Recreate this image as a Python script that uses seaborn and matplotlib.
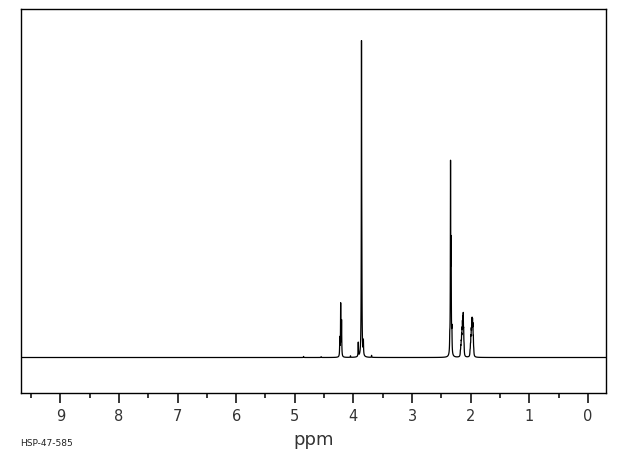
import numpy as np
import pandas as pd
import matplotlib
matplotlib.use("Agg")
import matplotlib.pyplot as plt
import seaborn as sns
from matplotlib.ticker import MultipleLocator

# ---- data (chemical shift in ppm, peak heights in arbitrary units) ----
peak_ppm = [4.85, 4.55, 4.232, 4.217, 4.202, 4.05, 3.917, 3.862, 3.856, 3.830, 3.69,
            2.356, 2.343, 2.333, 2.320,
            2.175, 2.168, 2.161, 2.154, 2.147, 2.140, 2.133, 2.126, 2.119, 2.112,
            2.010, 2.003, 1.996, 1.989, 1.982, 1.975, 1.968, 1.961, 1.954, 1.947]
peak_height = [1.0, 0.8, 18, 52, 35, 1.5, 14, 304, 50, 14, 2.0,
               12, 185, 100, 22,
               4, 7, 10, 15, 19, 24, 27, 33, 19, 7,
               4, 8, 14, 19, 23, 27, 26, 24, 13, 4]
line_hwhm = 0.0035
x_ticks = [9, 8, 7, 6, 5, 4, 3, 2, 1, 0]
x_label = "ppm"
code_label = "HSP-47-585"

ppm = np.arange(-0.31, 9.68, 0.0005)
intensity = np.zeros_like(ppm)
for p, h in zip(peak_ppm, peak_height):
    intensity += h / (1.0 + ((ppm - p) / line_hwhm) ** 2)
df = pd.DataFrame({"ppm": ppm, "intensity": intensity})

sns.set_style("white")
plt.rcParams["font.family"] = ["DejaVu Sans"]
plt.rcParams["path.simplify"] = False

fig = plt.figure(figsize=(6.2, 4.55), dpi=100)
ax = fig.add_axes([20.5 / 620, (455 - 393.3) / 455, 585.5 / 620, 383.8 / 455])
sns.lineplot(data=df, x="ppm", y="intensity", ax=ax, color="black",
             linewidth=0.9, estimator=None)

ax.set_xlim(9.679, -0.309)
ax.set_ylim(-35.8, 348)
ax.set_yticks([])
ax.set_ylabel("")
ax.set_xticks(x_ticks)
ax.set_xticklabels([str(t) for t in x_ticks], fontsize=10.5, color="#333333")
ax.xaxis.set_minor_locator(MultipleLocator(0.5))
ax.tick_params(axis="x", which="major", direction="out", length=7.5, width=1.1,
               color="black", pad=4, bottom=True)
ax.tick_params(axis="x", which="minor", direction="out", length=3.8, width=1.1,
               color="black", bottom=True)
for s in ax.spines.values():
    s.set_color("black")
    s.set_linewidth(1.0)

ax.set_xlabel(x_label, fontsize=13, color="#333333")
ax.xaxis.set_label_coords(0.5, -0.098)
fig.text(20 / 620, 1 - 443 / 455, code_label, fontsize=6.5, color="#222222",
         ha="left", va="center")

fig.savefig("out.png", dpi=100, facecolor="white")
